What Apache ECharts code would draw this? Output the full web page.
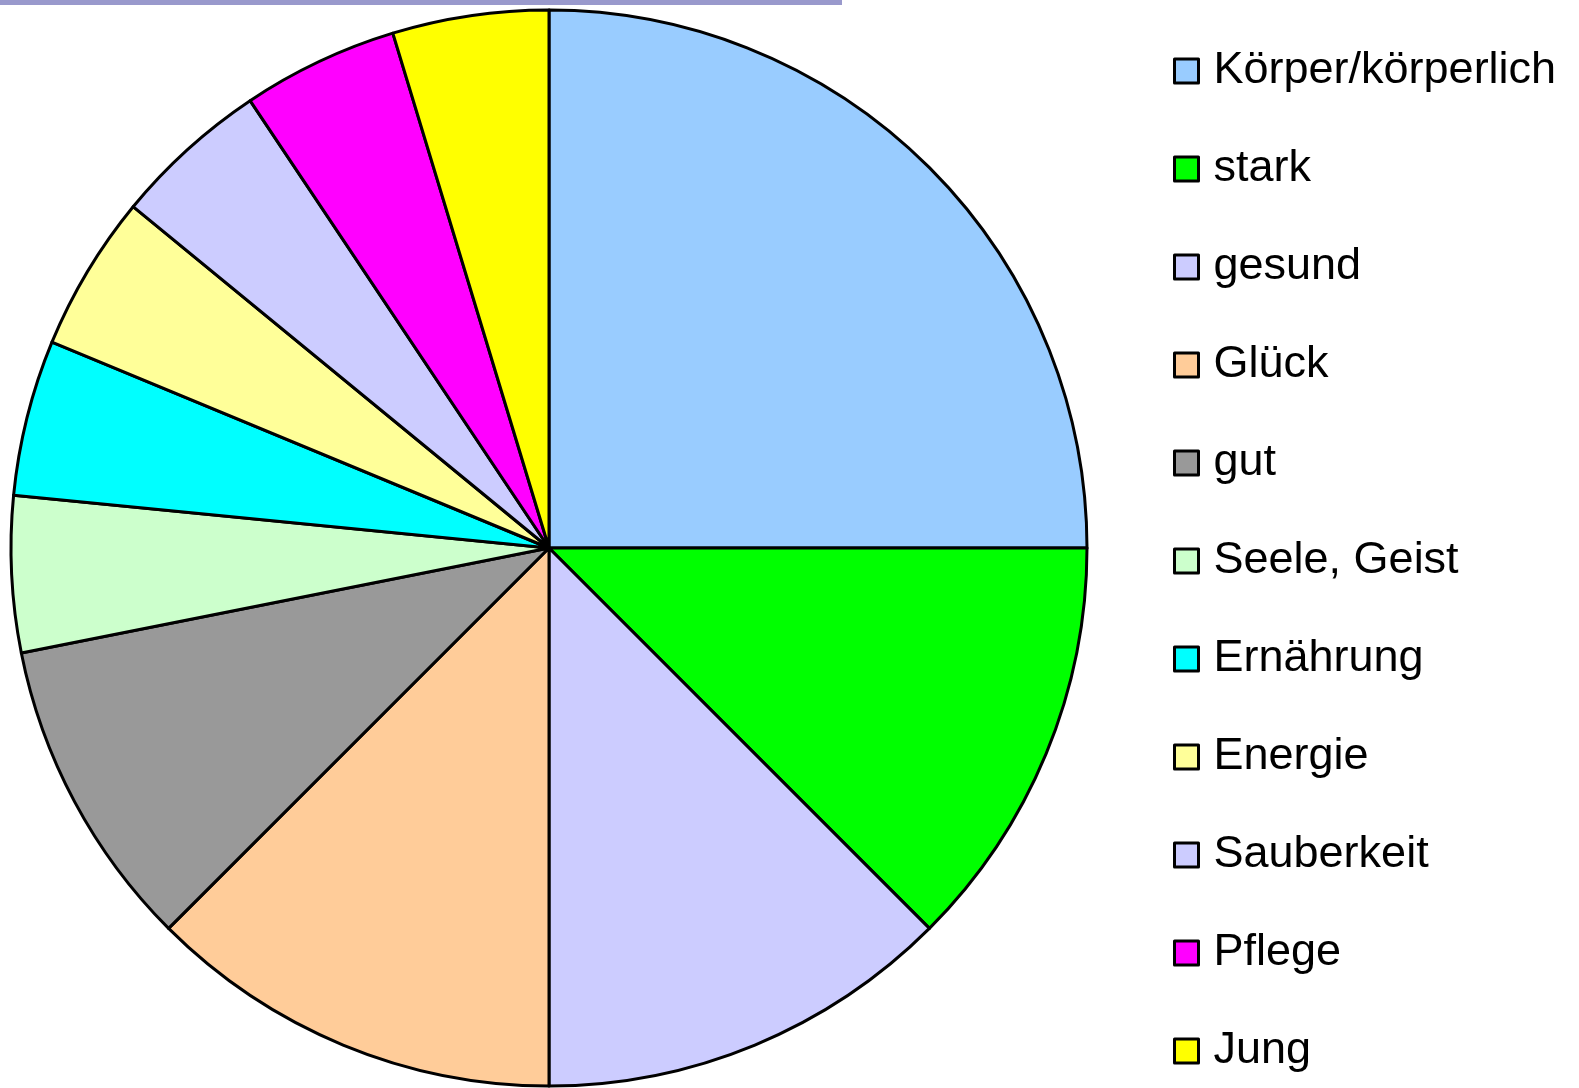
<!DOCTYPE html>
<html>
<head>
<meta charset="utf-8">
<script src="https://cdn.jsdelivr.net/npm/echarts@6/dist/echarts.min.js"></script>
<style>
  html, body { margin: 0; padding: 0; background: #fff; }
  #topbar { position: absolute; left: 0; top: 0; width: 842px; height: 5px; background: #9999cc; }
  #chart { width: 1579px; height: 1088px; }
</style>
</head>
<body>
<div id="topbar"></div>
<div id="chart"></div>
<script>
var categories = ['Körper/körperlich', 'stark', 'gesund', 'Glück', 'gut', 'Seele, Geist',
  'Ernährung', 'Energie', 'Sauberkeit', 'Pflege', 'Jung'];
var values = [16, 8, 8, 8, 6, 3, 3, 3, 3, 3, 3];
var colors = ['#99ccff', '#00ff00', '#ccccff', '#ffcc99', '#999999', '#ccffcc',
  '#00ffff', '#ffff99', '#ccccff', '#ff00ff', '#ffff00'];

var pieData = [];
for (var i = 0; i < categories.length; i++) {
  pieData.push({ name: categories[i], value: values[i], itemStyle: { color: colors[i] } });
}

var chart = echarts.init(document.getElementById('chart'));
chart.setOption({
  backgroundColor: 'transparent',
  animation: false,
  legend: {
    orient: 'vertical',
    left: 1168,
    top: 43,
    icon: 'rect',
    itemWidth: 24,
    itemHeight: 24,
    itemGap: 52,
    itemStyle: { borderColor: '#000', borderWidth: 3 },
    textStyle: {
      fontFamily: 'Liberation Sans, Arial, sans-serif',
      fontSize: 45,
      lineHeight: 46,
      color: '#000',
      padding: [0, 0, 0, 10]
    },
    data: categories
  },
  series: [{
    name: 'Begriffe',
    type: 'pie',
    center: [549, 548],
    radius: 538,
    startAngle: 90,
    clockwise: true,
    avoidLabelOverlap: false,
    label: { show: false },
    labelLine: { show: false },
    emphasis: { disabled: true },
    itemStyle: { borderColor: '#000', borderWidth: 3 },
    data: pieData
  }]
});
</script>
</body>
</html>
